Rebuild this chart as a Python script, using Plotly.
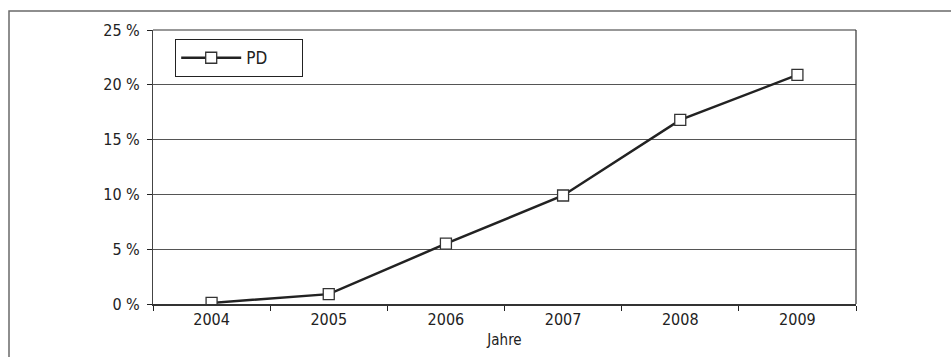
import plotly.graph_objects as go

years = ["2004", "2005", "2006", "2007", "2008", "2009"]
pd_values = [0.1, 0.9, 5.5, 9.9, 16.8, 20.9]
y_ticks = [0, 5, 10, 15, 20, 25]
series_name = "PD"
x_title = "Jahre"

FONT = "DejaVu Sans Condensed, Roboto, sans-serif"
INK = "#222222"

fig = go.Figure()
fig.add_trace(go.Scatter(
    x=years, y=pd_values, name=series_name, mode="lines+markers",
    line=dict(color=INK, width=2.5),
    marker=dict(symbol="square", size=11, color="white",
                line=dict(color="#333333", width=1.3)),
    showlegend=True,
))

W, H = 951, 357
L, R, T, B = 153, 95, 30, 53
pw, ph = W - L - R, H - T - B

fig.update_layout(
    width=W, height=H,
    margin=dict(l=L, r=R, t=T, b=B, pad=0),
    paper_bgcolor="white", plot_bgcolor="white",
    font=dict(family=FONT, size=15, color=INK),
    showlegend=True,
    legend=dict(
        orientation="h",
        x=(175 - L) / pw, y=1 - (39 - T) / ph, xanchor="left", yanchor="top",
        bgcolor="white", bordercolor=INK, borderwidth=1.2,
        font=dict(family=FONT, size=17, color=INK),
        itemwidth=60, entrywidth=50, entrywidthmode="pixels",
        tracegroupgap=0,
    ),
    xaxis=dict(
        type="category", range=[-0.5, 5.5],
        showgrid=False, tickson="boundaries", ticks="outside", ticklen=5,
        tickcolor=INK, tickwidth=1.2,
        showline=True, linecolor="#333333", linewidth=2, mirror=False,
        tickfont=dict(family=FONT, size=16, color=INK),
        title=dict(text=x_title, font=dict(family=FONT, size=15, color=INK), standoff=6),
        zeroline=False,
    ),
    yaxis=dict(
        range=[0, 25], tickvals=y_ticks, ticktext=[f"{v} %" for v in y_ticks],
        showgrid=True, gridcolor="#555555", gridwidth=1,
        ticks="outside", ticklen=5, tickcolor=INK, tickwidth=1,
        ticklabelstandoff=4,
        showline=True, linecolor="#444444", linewidth=1, mirror=False,
        tickfont=dict(family=FONT, size=16, color=INK),
        zeroline=False,
    ),
)

# plot area border (top & right) and outer frame
fig.add_shape(type="line", xref="paper", yref="paper", x0=0, x1=1, y0=1, y1=1,
              line=dict(color="#333333", width=1.2))
fig.add_shape(type="line", xref="paper", yref="paper", x0=1, x1=1, y0=0, y1=1,
              line=dict(color="#333333", width=1.2))
fig.add_shape(type="rect", xref="paper", yref="paper",
              x0=(9 - L) / pw, x1=(980 - L) / pw,
              y0=1 + (T - 11) / ph, y1=-(400 - (H - B)) / ph,
              line=dict(color="#6a6a6a", width=1.5), layer="below")

fig.write_html("out.html", config={"displayModeBar": False},
               post_script="document.body.style.margin='0';")
